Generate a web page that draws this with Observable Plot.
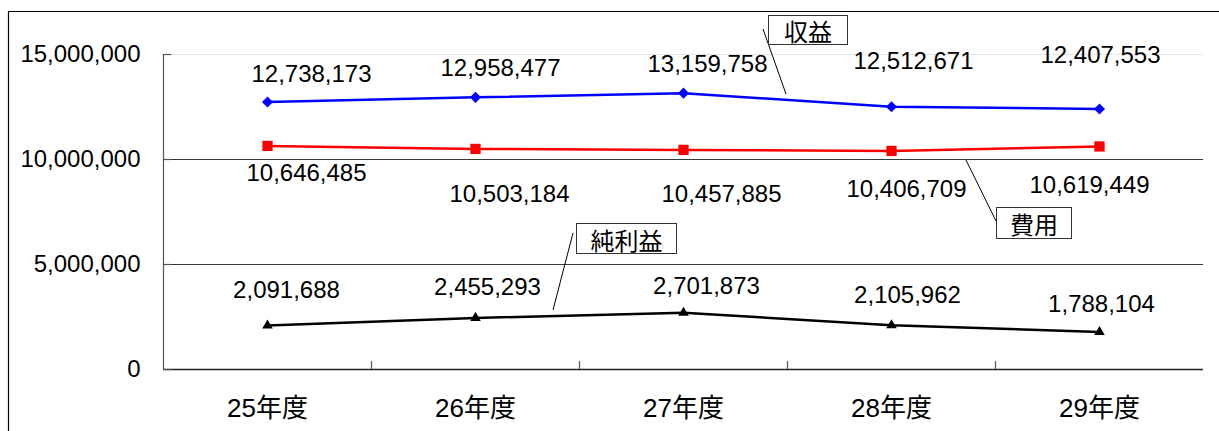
<!DOCTYPE html>
<html>
<head>
<meta charset="utf-8">
<script src="https://cdn.jsdelivr.net/npm/d3@7"></script>
<script src="https://cdn.jsdelivr.net/npm/@observablehq/plot@0.6"></script>
<style>
  html, body { margin: 0; padding: 0; background: #fff; overflow: hidden; }
  #chart svg { display: block; }
</style>
</head>
<body>
<div id="chart"></div>
<script>
// ---- data ----
const categories = ["25年度", "26年度", "27年度", "28年度", "29年度"];
const revenue = [12738173, 12958477, 13159758, 12512671, 12407553]; // 収益
const expense = [10646485, 10503184, 10457885, 10406709, 10619449]; // 費用
const netIncome = [2091688, 2455293, 2701873, 2105962, 1788104];    // 純利益
const yTicks = [0, 5000000, 10000000, 15000000];
const seriesNames = ["収益", "費用", "純利益"];

// ---- layout (label offsets in px, as placed in the original) ----
const revLabelOffset = [[44, -28], [25, -29], [24, -29], [22, -45], [1, -54]];
const expLabelOffset = [[39, 27], [34, 45], [38, 44], [15, 38], [-10, 39]];
const netLabelOffset = [[19, -35], [12, -31], [23, -26], [16, -30], [2, -28]];

const W = 1219, H = 431;
const mL = 163, mR = 16, mT = 54, mB = 62;
const bw = (W - mL - mR) / categories.length;
const plotH = H - mT - mB;
const font = "'Liberation Sans', 'Noto Sans CJK JP', sans-serif";
const fmt = d3.format(",");

const rows = (vals, name) => vals.map((v, i) => ({cat: categories[i], value: v, series: name, i}));
const revRows = rows(revenue, seriesNames[0]);
const expRows = rows(expense, seriesNames[1]);
const netRows = rows(netIncome, seriesNames[2]);

const labelMarks = (data, offsets) => data.map((d, i) =>
  Plot.text([d], {x: "cat", y: "value", text: d => fmt(d.value), dx: offsets[i][0], dy: offsets[i][1],
    fontSize: 24, fill: "#000", textAnchor: "middle", lineAnchor: "middle"}));

const chart = Plot.plot({
  width: W, height: H,
  marginLeft: mL, marginRight: mR, marginTop: mT, marginBottom: mB,
  style: {fontFamily: font, fontSize: "24px", color: "#000", background: "#fff"},
  x: {type: "band", domain: categories, padding: 0, label: null, tickSize: 0, tickPadding: 29},
  y: {domain: [0, 15000000], ticks: yTicks, tickFormat: fmt, label: null, tickSize: 0, tickPadding: 23},
  marks: [
    Plot.ruleY([yTicks[3]], {stroke: "#e6e6e6", strokeWidth: 1}),
    Plot.ruleY(yTicks.slice(1, 3), {stroke: "#3a3a3a", strokeWidth: 1.2}),
    Plot.ruleY([0], {stroke: "#222", strokeWidth: 1.5}),
    Plot.ruleX([categories[0]], {dx: -bw / 2, stroke: "#555", strokeWidth: 1.2}),
    Plot.tickY(yTicks, {y: d => d, insetRight: (W - mL - mR) - 8, stroke: "#555", strokeWidth: 1.2}),
    Plot.tickX(categories.slice(1), {x: d => d, dx: -bw / 2, insetTop: plotH - 8, stroke: "#555", strokeWidth: 1.2}),
    Plot.line(revRows, {x: "cat", y: "value", stroke: "#0000ff", strokeWidth: 2.5}),
    Plot.line(expRows, {x: "cat", y: "value", stroke: "#ff0000", strokeWidth: 2.5}),
    Plot.line(netRows, {x: "cat", y: "value", stroke: "#000", strokeWidth: 2.5}),
    Plot.dot(revRows, {x: "cat", y: "value", symbol: "diamond2", r: 5, fill: "#0000ff", stroke: "none"}),
    Plot.dot(expRows, {x: "cat", y: "value", symbol: "square", r: 5.8, fill: "#ff0000", stroke: "none"}),
    Plot.dot(netRows, {x: "cat", y: "value", symbol: "triangle", r: 3.9, fill: "#000", stroke: "none"}),
    ...labelMarks(revRows, revLabelOffset),
    ...labelMarks(expRows, expLabelOffset),
    ...labelMarks(netRows, netLabelOffset)
  ]
});
document.getElementById("chart").appendChild(chart);

const svg = d3.select(chart);
// larger category labels on the x axis
svg.selectAll('g[aria-label^="x-axis"] text').attr("font-size", 26).style("font-size", "26px");

// ---- annotation callouts and outer chart-area border ----
const callouts = [
  {text: seriesNames[0], box: [768, 15, 79, 29], leader: [763, 29, 786, 94]},
  {text: seriesNames[2], box: [576, 223, 100, 30], leader: [573, 233, 553, 310]},
  {text: seriesNames[1], box: [996, 207, 75, 31], leader: [966, 160, 996, 221]}
];
const g = svg.append("g");
for (const c of callouts) {
  g.append("line").attr("x1", c.leader[0]).attr("y1", c.leader[1]).attr("x2", c.leader[2]).attr("y2", c.leader[3])
    .attr("stroke", "#000").attr("stroke-width", 1);
  g.append("rect").attr("x", c.box[0] + 0.5).attr("y", c.box[1] + 0.5).attr("width", c.box[2]).attr("height", c.box[3])
    .attr("fill", "#fff").attr("stroke", "#333").attr("stroke-width", 1);
  g.append("text").attr("x", c.box[0] + c.box[2] / 2 + 0.5).attr("y", c.box[1] + c.box[3] / 2 + 1)
    .attr("text-anchor", "middle").attr("dominant-baseline", "central")
    .attr("font-size", 24).attr("font-family", "'Noto Sans CJK JP', sans-serif").attr("fill", "#000").text(c.text);
}
svg.append("path").attr("d", `M8.5,${H}V11.5H${W}`).attr("fill", "none").attr("stroke", "#000").attr("stroke-width", 1.2);
</script>
</body>
</html>
